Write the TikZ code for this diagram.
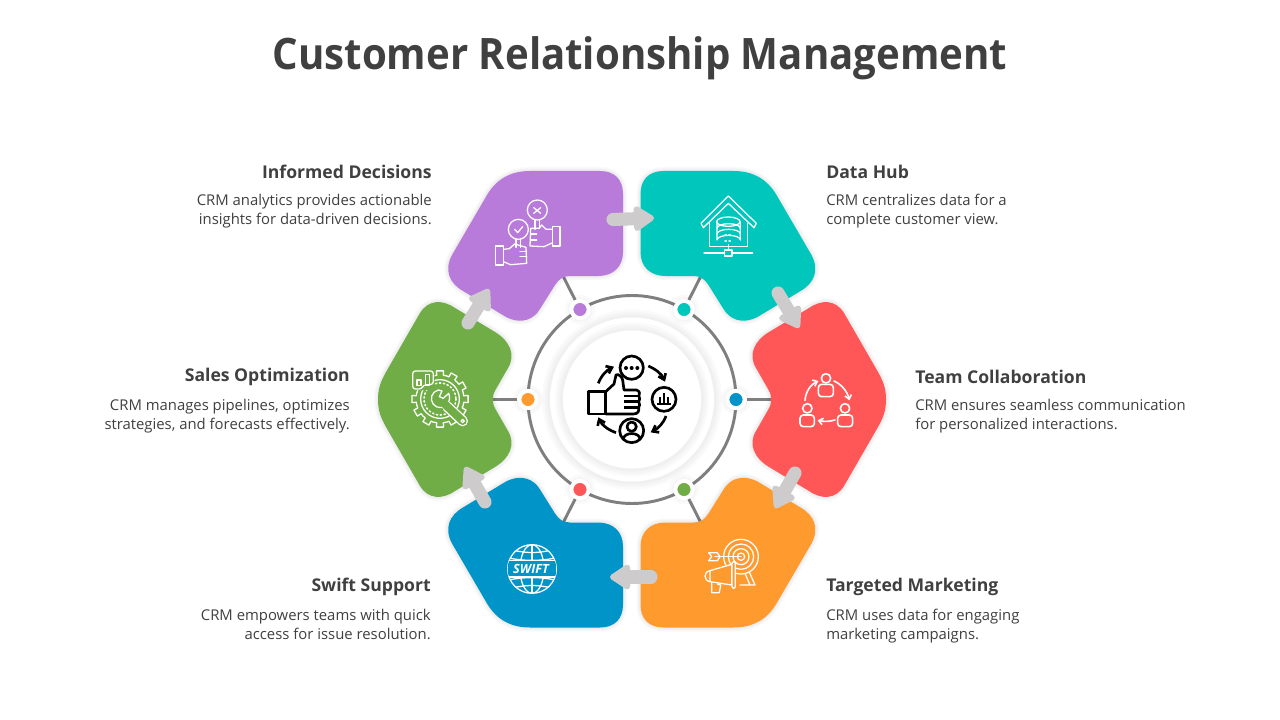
\documentclass[tikz,border=0pt]{standalone}
\usepackage{fontspec}
\setmainfont{Open Sans}
\usetikzlibrary{arrows.meta,calc}
\definecolor{cpurple}{HTML}{B97BD9}
\definecolor{cteal}{HTML}{00C6BC}
\definecolor{cred}{HTML}{FF5757}
\definecolor{corange}{HTML}{FF9B2E}
\definecolor{cblue}{HTML}{0094C8}
\definecolor{cgreen}{HTML}{70AD47}
\definecolor{cgrey}{HTML}{CDCBCB}
\definecolor{cring}{HTML}{7F7F7F}
\definecolor{ctext}{HTML}{404040}
\newcommand{\petalA}{(530,171) -- (600,171) .. controls (615,171) and (623,180) .. (623,194) -- (623,252) .. controls (623,267) and (613,276) .. (598,276) -- (570,276) .. controls (563,276) and (559,279) .. (555,285) -- (540,309) .. controls (534,319) and (522,325) .. (506,317) -- (463,291) .. controls (449,283) and (444,270) .. (452,255) -- (487,195) .. controls (497,178) and (512,171) .. (530,171) -- cycle}
\newcommand{\petalB}{(378,399.5) .. controls (378,388) and (381,381) .. (386,372) -- (420,313) .. controls (428,300) and (442,299) .. (455,308) -- (495,332) .. controls (510,341) and (516,355) .. (508,368) -- (496,389) .. controls (493,394) and (493,396) .. (493,399.5) .. controls (493,403) and (493,405) .. (496,410) -- (508,431) .. controls (516,444) and (510,458) .. (495,467) -- (455,491) .. controls (442,500) and (428,499) .. (420,486) -- (386,427) .. controls (381,418) and (378,411) .. (378,399.5) -- cycle}
\newcommand{\softpetal}[2]{%
  \foreach \w in {6,4,2}{\draw[black,opacity=.022,line width=\w pt,line join=round] #1;}
  \fill[#2] #1;}
\newcommand{\softdisc}[2]{%
  \foreach \w in {8,5.5,3}{\fill[black,opacity=.018] (#1) circle ({#2+\w});}}
\tikzset{
  px/.style={x=.75pt,y=-.75pt},
  zoomed/.style={shift={(#1)},x=.25pt,y=-.25pt},
  ringline/.style={draw=cring,line width=2.2pt},
  dotnode/.style={circle,fill=#1,draw=white,line width=3pt,minimum size=13pt,inner sep=0pt},
  flow/.style={draw=cgrey,line width=9.8pt,line cap=round,-{Triangle[length=17pt,width=21pt,round,fill=cgrey]}},
  heading/.style={font=\fontsize{13.2}{15}\selectfont\bfseries,text=ctext,inner sep=0pt},
  body/.style={font=\fontsize{11.15}{14.25}\selectfont,text=ctext,inner sep=0pt},
  ico/.style={draw=white,line width=.95pt,line cap=round,line join=round},
  bico/.style={draw=black,line width=2pt,line join=round},
}
\begin{document}
\begin{tikzpicture}[px]
\useasboundingbox (0,0) rectangle (1280,720);
\fill[white] (0,0) rectangle (1280,720);
\node[font=\fontsize{32.5}{38}\selectfont\bfseries,text=ctext,inner sep=0pt,anchor=base] (title) at (640,70) {\scalebox{.927}[1]{Customer Relationship Management}};

% ring, discs
\node[circle,ringline,fill=white,minimum size=156pt,inner sep=0pt] (ring) at (632,399.5) {};
\softdisc{632,399.5}{82}
\fill[white] (632,399.5) circle (82);
\softdisc{632,399.5}{69}
\node[circle,fill=white,minimum size=103.5pt,inner sep=0pt] (hub) at (632,399.5) {};

% spoke ends
\coordinate (n1) at (563,276);
\coordinate (n2) at (701,276);
\coordinate (n3) at (771,399.5);
\coordinate (n4) at (701,523);
\coordinate (n5) at (563,523);
\coordinate (n6) at (493,399.5);

\softdisc{580,309.5}{7} \softdisc{684,309.5}{7} \softdisc{736,399.5}{7}
\softdisc{684,489.5}{7} \softdisc{580,489.5}{7} \softdisc{528,399.5}{7}
\node[dotnode=cpurple] (d1) at (580,309.5) {};
\node[dotnode=cteal] (d2) at (684,309.5) {};
\node[dotnode=cblue] (d3) at (736,399.5) {};
\node[dotnode=cgreen] (d4) at (684,489.5) {};
\node[dotnode=cred] (d5) at (580,489.5) {};
\node[dotnode=corange] (d6) at (528,399.5) {};
\foreach \i in {1,...,6}{\draw[ringline] (d\i) -- (n\i);}

% petals
\softpetal{\petalA}{cpurple}
\begin{scope}[shift={(1263.5,0)},xscale=-1]\softpetal{\petalA}{cteal}\end{scope}
\begin{scope}[shift={(0,798.5)},yscale=-1]\softpetal{\petalA}{cblue}\end{scope}
\begin{scope}[shift={(1263.5,798.5)},xscale=-1,yscale=-1]\softpetal{\petalA}{corange}\end{scope}
\softpetal{\petalB}{cgreen}
\begin{scope}[shift={(1264,0)},xscale=-1]\softpetal{\petalB}{cred}\end{scope}

% flow arrows
\coordinate (t1) at (613,219.5); \coordinate (h1) at (654,218);
\coordinate (t2) at (778,293);   \coordinate (h2) at (799,328);
\coordinate (t3) at (795,473);   \coordinate (h3) at (775,508);
\coordinate (t4) at (651,577);   \coordinate (h4) at (610,577);
\coordinate (t5) at (485,502);   \coordinate (h5) at (465,467);
\coordinate (t6) at (468,323);   \coordinate (h6) at (489,289);
\foreach \i in {1,...,6}{\draw[flow] (t\i) -- (h\i);}

% purple icon
\begin{scope}[zoomed={440,160}]
\draw[ico] (292,150) circle (30);
\draw[ico] (235,208) circle (30);
\draw[ico] (281,143) -- (302,160) (302,143) -- (281,160);
\draw[ico] (224,208) -- (233,218) -- (248,200);
\draw[ico] (285,180) -- (285,208) (298,180) -- (298,205);
\draw[ico] (228,238) -- (228,262) (241,238) -- (241,262);
\draw[ico] (338,200) rectangle (360,258);
\draw[ico] (167,258) rectangle (190,315);
\draw[ico] (338,208) -- (318,208) -- (305,195) -- (298,205) -- (272,205) -- (270,258) -- (312,260) -- (338,248);
\draw[ico] (272,222) -- (290,222) (272,240) -- (290,240);
\draw[ico] (190,268) -- (208,266) -- (224,252) -- (258,262) -- (260,310) -- (212,314) -- (190,305);
\draw[ico] (240,275) -- (260,275) (240,290) -- (260,290);
\end{scope}

% teal icon
\begin{scope}[zoomed={630,160}]
\draw[ico] (213,190) -- (295,108) -- (379,190) -- (372,203) -- (295,130) -- (220,203) -- cycle;
\draw[ico] (238,190) -- (238,260) -- (352,260) -- (352,190);
\draw[ico,fill=cteal] (261,185) -- (261,240) arc[start angle=180,end angle=360,x radius=35,y radius=14] -- (331,185);
\draw[ico,fill=cteal] (295,185) ellipse [x radius=35,y radius=14];
\draw[ico] (261,205) arc[start angle=180,end angle=360,x radius=35,y radius=14];
\draw[ico] (261,222) arc[start angle=180,end angle=360,x radius=35,y radius=14];
\draw[ico,dotted] (285,208) -- (308,208) (285,225) -- (308,225) (285,243) -- (308,243);
\draw[ico] (295,254) -- (295,270);
\draw[ico] (284,270) rectangle (306,288);
\draw[ico] (222,279) -- (284,279) (306,279) -- (368,279);
\end{scope}

% red icon
\begin{scope}[zoomed={740,295},ico/.append style={line width=1.2pt}]
\draw[ico] (258,250) circle (14);
\draw[ico,rounded corners=2.5pt] (235,268) rectangle (280,305);
\draw[ico] (202,340) circle (14);
\draw[ico,rounded corners=2.5pt] (180,360) rectangle (223,395);
\draw[ico] (315,340) circle (14);
\draw[ico,rounded corners=2.5pt] (293,360) rectangle (338,395);
\draw[ico,-{Straight Barb[length=3pt,width=5pt]}] (195,316) .. controls (197,290) and (212,268) .. (235,258);
\draw[ico,-{Straight Barb[length=3pt,width=5pt]}] (282,258) .. controls (305,268) and (322,290) .. (328,316);
\draw[ico,-{Straight Barb[length=3pt,width=5pt]}] (285,375) .. controls (270,380) and (250,380) .. (233,376);
\end{scope}

% orange icon
\begin{scope}[zoomed={630,470}]
\draw[ico] (333,260) circle (52) (333,260) circle (38) (333,260) circle (24) (333,260) circle (11);
\draw[ico] (345,310) -- (360,345) (358,306) -- (375,345) (330,345) -- (375,345);
\draw[ico] (333,260) -- (255,260);
\draw[ico] (236,248) -- (262,248) -- (270,260) -- (262,272) -- (236,272) -- (245,260) -- cycle;
\draw[ico,fill=corange] (305,283) -- (240,302) -- (240,335) -- (305,345) -- cycle;
\draw[ico] (240,302) .. controls (220,305) and (220,332) .. (240,335);
\draw[ico,fill=corange,rounded corners=1.5pt] (306,275) rectangle (316,355);
\draw[ico,fill=corange] (245,338) -- (245,368) -- (268,368) -- (272,345) -- (262,342);
\end{scope}

% blue icon
\begin{scope}[zoomed={440,470}]
\draw[ico] (276,297) circle (73);
\begin{scope}
\clip (276,297) circle (73);
\draw[ico] (276,297) ellipse [x radius=36,y radius=73];
\draw[ico] (276,224) -- (276,370);
\draw[ico] (200,262) .. controls (240,274) and (312,274) .. (352,262);
\draw[ico] (218,240) .. controls (255,250) and (297,250) .. (334,240);
\draw[ico] (200,332) .. controls (240,320) and (312,320) .. (352,332);
\draw[ico] (218,354) .. controls (255,344) and (297,344) .. (334,354);
\fill[cblue] (200,272) rectangle (352,321);
\draw[ico] (200,272) -- (352,272) (200,321) -- (352,321);
\end{scope}
\node[text=white,inner sep=0pt,font=\fontsize{9.5}{11}\selectfont\bfseries\itshape] (swift) at (273,297) {SWIFT};
\end{scope}

% green icon
\begin{scope}[zoomed={370,295}]
\foreach \a in {0,30,...,330}{
  \draw[ico] ($(210,312)+(\a-8:72)$) -- ($(210,312)+(\a-7:85)$) -- ($(210,312)+(\a+7:85)$) -- ($(210,312)+(\a+8:72)$) arc[start angle=\a+8,end angle=\a+22,radius=72];
}
\draw[ico] (210,312) circle (58);
\draw[ico,dotted,line width=1.2pt] (210,312) circle (48);
\fill[cgreen,rounded corners=2pt] (124,224) rectangle (194,286);
\draw[ico,rounded corners=2pt] (128,228) -- (190,228) -- (190,268) -- (160,270) -- (155,282) -- (128,282) -- cycle;
\draw[ico] (141,255) rectangle (153,272);
\draw[ico] (166,238) rectangle (178,270);
\draw[ico,fill=cgreen] (205,285) .. controls (185,290) and (178,312) .. (190,328) .. controls (202,342) and (222,340) .. (232,328) .. controls (240,318) and (240,305) .. (236,295) -- (220,310) -- (208,305) -- (216,288) -- cycle;
\draw[draw=white,line width=8pt,line cap=round] (232,335) -- (278,378);
\draw[draw=cgreen,line width=6pt,line cap=round] (225,328) -- (278,378);
\draw[ico] (278,378) circle (5);
\end{scope}

% centre icon
\begin{scope}[zoomed={540,310}]
\draw[bico] (275,173) circle (35);
\fill (258,174) circle (6) (275,174) circle (6) (292,174) circle (6);
\draw[bico] (372,268) circle (36);
\draw[bico] (350,282) -- (394,282) (360,282) -- (360,262) (372,282) -- (372,248) (384,282) -- (384,262);
\draw[bico] (275,362) circle (36);
\draw[bico] (275,350) circle (14);
\draw[bico] (250,388) .. controls (250,365) and (300,365) .. (300,388);
\draw[bico] (145,245) rectangle (197,312);
\draw[bico] (197,245) -- (222,222) -- (228,195) .. controls (235,190) and (246,200) .. (248,210) -- (252,240) -- (290,240) .. controls (300,245) and (300,250) .. (297,258) .. controls (300,265) and (300,270) .. (296,275) .. controls (300,282) and (300,288) .. (296,292) .. controls (298,302) and (295,312) .. (280,312) -- (197,312);
\draw[bico] (252,258) -- (297,258) (252,275) -- (296,275) (252,292) -- (296,292);
\draw[bico,-{Straight Barb[length=4pt,width=6pt]}] (175,220) .. controls (183,198) and (200,180) .. (222,170);
\draw[bico,-{Straight Barb[length=4pt,width=6pt]}] (325,168) .. controls (348,178) and (365,192) .. (375,215);
\draw[bico,-{Straight Barb[length=4pt,width=6pt]}] (378,318) .. controls (370,340) and (355,355) .. (332,367);
\draw[bico,-{Straight Barb[length=4pt,width=6pt]}] (228,368) .. controls (205,360) and (185,345) .. (175,322);
\end{scope}

% texts
\node[heading,anchor=east] (hA) at (432,172) {Informed Decisions};
\node[body,anchor=north east,align=right] (bA) at (432,193.5) {CRM analytics provides actionable\\insights for data-driven decisions.};
\node[heading,anchor=west] (hB) at (826,172) {Data Hub};
\node[body,anchor=north west,align=left] (bB) at (826,193.5) {CRM centralizes data for a\\complete customer view.};
\node[heading,anchor=east] (hC) at (350,377) {Sales Optimization};
\node[body,anchor=north east,align=right] (bC) at (350,398.5) {CRM manages pipelines, optimizes\\strategies, and forecasts effectively.};
\node[heading,anchor=west] (hD) at (915,377) {Team Collaboration};
\node[body,anchor=north west,align=left] (bD) at (915,398.5) {CRM ensures seamless communication\\for personalized interactions.};
\node[heading,anchor=east] (hE) at (431,587) {Swift Support};
\node[body,anchor=north east,align=right] (bE) at (431,608.5) {CRM empowers teams with quick\\access for issue resolution.};
\node[heading,anchor=west] (hF) at (826,587) {Targeted Marketing};
\node[body,anchor=north west,align=left] (bF) at (826,608.5) {CRM uses data for engaging\\marketing campaigns.};
\end{tikzpicture}
\end{document}
